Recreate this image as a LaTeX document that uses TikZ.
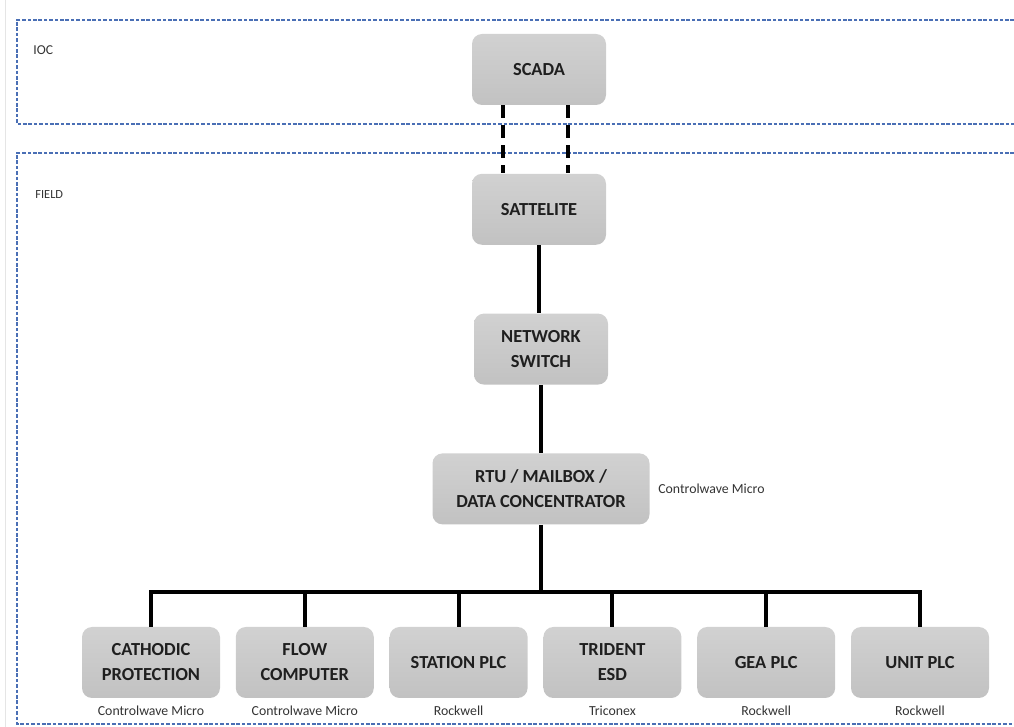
\documentclass[tikz,border=0pt]{standalone}
\usepackage{fontspec}
\setmainfont{Carlito}
\usepackage{xcolor}
\usetikzlibrary{positioning}
\definecolor{zoneblue}{HTML}{4A6FB5}

\begin{document}
\begin{tikzpicture}[
  x=0.5pt, y=-0.5pt,
  node distance=34pt and 7.5pt,
  box/.style={rounded corners=5pt, align=center, minimum width=67pt, minimum height=35.5pt, inner sep=2pt,
    top color=black!18, bottom color=black!24, text=black!88, font=\fontsize{9.2}{12.5}\selectfont\bfseries},
  wbox/.style={box, minimum width=69pt},
  zone/.style={draw=zoneblue, line width=0.7pt, dash pattern=on 1.8pt off 0.9pt},
  zonelbl/.style={anchor=west, inner sep=0pt, text=black!80},
  vendor/.style={inner sep=0pt, font=\fontsize{6.9}{8}\selectfont, text=black!80},
  link/.style={line width=2pt},
  radio/.style={link, dash pattern=on 6.5pt off 3.5pt}
]
\useasboundingbox (0,0) rectangle (1014,727);
\draw[black!10, line width=0.5pt] (5,0) -- (5,727);

\draw[zone] (1014,20) -| (17,124) -- (1014,124);
\draw[zone] (1014,153) -| (17,724) -- (1014,724);
\node[zonelbl, font=\fontsize{6.8}{8}\selectfont] (ioc) at (33,50) {IOC};
\node[zonelbl, font=\fontsize{6.2}{8}\selectfont] (field) at (35,195) {FIELD};

\node[box] (scada) at (539,69.5) {SCADA};
\node[box, below=of scada] (sat) {SATTELITE};
\node[box, below=of sat, xshift=1pt] (switch) {NETWORK\\SWITCH};
\node[box, below=of switch, minimum width=108.5pt] (rtu) {RTU / MAILBOX /\\DATA CONCENTRATOR};
\node[vendor, right=4pt of rtu] (rtuvendor) {Controlwave Micro};

\node[wbox] (cp) at (151,662.5) {CATHODIC\\PROTECTION};
\node[wbox, right=of cp] (flow) {FLOW\\COMPUTER};
\node[wbox, right=of flow] (station) {STATION PLC};
\node[wbox, right=of station] (esd) {TRIDENT\\ESD};
\node[wbox, right=of esd] (gea) {GEA PLC};
\node[wbox, right=of gea] (unit) {UNIT PLC};

\node[vendor, below=3.5pt of cp] {Controlwave Micro};
\node[vendor, below=3.5pt of flow] {Controlwave Micro};
\node[vendor, below=3.5pt of station] {Rockwell};
\node[vendor, below=3.5pt of esd] {Triconex};
\node[vendor, below=3.5pt of gea] {Rockwell};
\node[vendor, below=3.5pt of unit] {Rockwell};

\draw[radio] ([xshift=-18pt]scada.south) -- ([xshift=-18pt]sat.north);
\draw[radio] ([xshift=14.5pt]scada.south) -- ([xshift=14.5pt]sat.north);
\draw[link] (sat) -- (sat |- switch.north);
\draw[link] (switch) -- (switch |- rtu.north);

\coordinate (bus) at (541,592);
\draw[link] (rtu.south) -- (bus);
\draw[link] (cp.north) |- (bus) -| (unit.north);
\foreach \n in {flow,station,esd,gea}
  \draw[link] (\n.north) -- (\n.north |- bus);
\end{tikzpicture}
\end{document}
